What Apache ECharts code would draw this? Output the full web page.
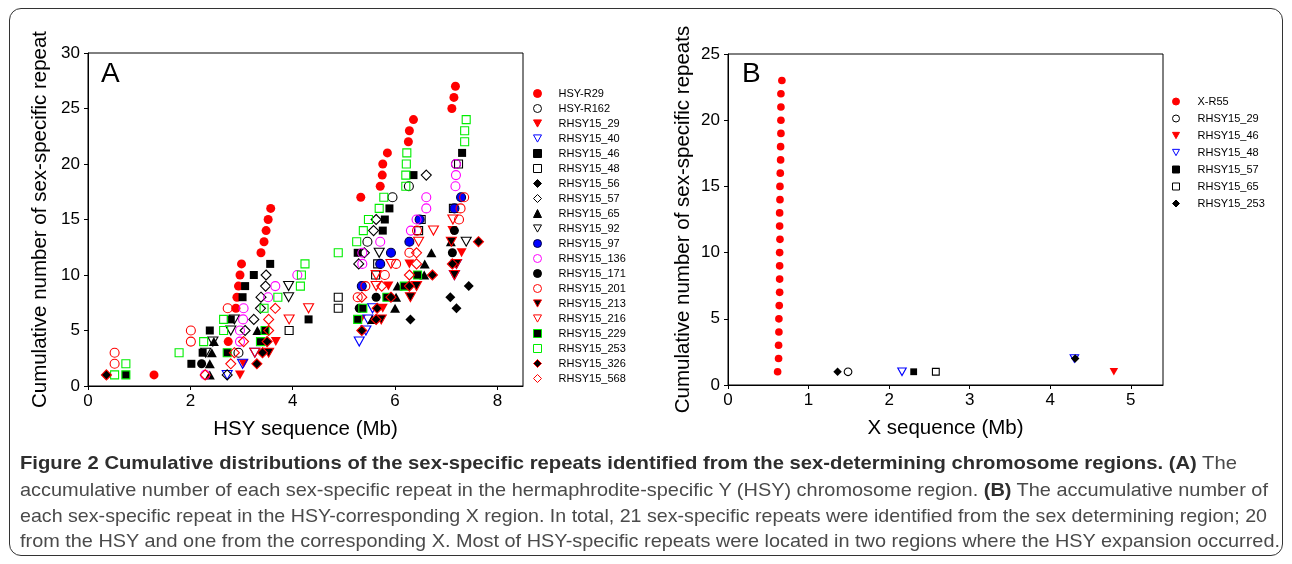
<!DOCTYPE html>
<html><head><meta charset="utf-8">
<script src="https://cdn.jsdelivr.net/npm/echarts@6/dist/echarts.min.js"></script>
<style>
html,body{margin:0;padding:0;background:#fff;}
#wrap{position:relative;width:1292px;height:564px;overflow:hidden;background:#fff;}
#chart{position:absolute;left:0;top:0;width:1292px;height:564px;}
#frame{position:absolute;left:9px;top:8px;width:1274px;height:548px;border:1.3px solid #333;border-radius:12px;box-sizing:border-box;pointer-events:none;}
.cap{position:absolute;left:20px;height:22px;line-height:22px;white-space:nowrap;font-family:'Liberation Sans Narrow','Liberation Sans',Arial,sans-serif;font-size:19px;color:#4a4a4a;transform-origin:0 50%;}
.cap b{color:#2e2e2e;}
</style></head>
<body>
<div id="wrap">
<div id="chart"></div>
<div id="frame"></div>
<div class="cap" id="c1" style="top:452px"><b>Figure 2 Cumulative distributions of the sex-specific repeats identified from the sex-determining chromosome regions. (A)</b> The</div>
<div class="cap" id="c2" style="top:479px">accumulative number of each sex-specific repeat in the hermaphrodite-specific Y (HSY) chromosome region. <b>(B)</b> The accumulative number of</div>
<div class="cap" id="c3" style="top:505px">each sex-specific repeat in the HSY-corresponding X region. In total, 21 sex-specific repeats were identified from the sex determining region; 20</div>
<div class="cap" id="c4" style="top:530px">from the HSY and one from the corresponding X. Most of HSY-specific repeats were located in two regions where the HSY expansion occurred.</div>
</div>
<script>
// ---------- Panel A data: [HSY position (Mb), cumulative count] ----------
const hsyR29   = [[1.29,1],[2.74,4],[2.89,7],[2.91,8],[2.94,9],[2.97,10],[3.0,11],[3.38,12],[3.44,13],[3.48,14],[3.52,15],[3.57,16],[5.33,17],[5.71,18],[5.75,19],[5.76,20],[5.85,21],[6.26,22],[6.28,23],[6.36,24],[7.11,25],[7.15,26],[7.18,27]];
const hsyR162  = [[2.94,3],[5.46,13],[5.95,17],[6.27,18],[7.19,20]];
const r29      = [[2.97,1],[3.04,2],[3.67,4],[5.33,6],[5.76,7],[5.87,9],[6.28,11],[7.3,12],[7.12,14]];
const r40      = [[2.72,1],[3.02,2],[3.26,3],[5.3,4],[5.43,5],[5.47,6],[5.56,7],[7.16,10],[7.2,11]];
const r46      = [[2.02,2],[2.24,3],[2.38,5],[2.79,6],[3.02,8],[3.07,9],[3.24,10],[3.56,11],[4.31,6],[5.27,12],[5.76,14],[5.8,15],[5.89,16],[6.36,19],[7.31,21]];
const r48      = [[3.93,5],[4.89,7],[4.89,8],[5.62,10],[5.66,11],[6.46,14],[6.51,15],[7.14,16],[7.24,20]];
const r56      = [[0.36,1],[6.3,6],[7.2,7],[7.08,8],[7.44,9]];
const r57      = [[2.72,1],[3.07,5],[3.24,6],[3.37,7],[3.38,8],[3.47,9],[3.48,10],[5.29,11],[5.4,12],[5.58,14],[5.63,15],[6.61,19]];
const r65      = [[2.38,1],[2.38,2],[2.42,3],[2.46,4],[3.31,5],[5.55,6],[6.0,7],[6.02,8],[6.05,9],[6.57,10],[6.58,11],[6.71,12],[7.09,13]];
const r92      = [[2.3,3],[2.44,4],[2.79,5],[2.86,6],[3.92,8],[3.92,9],[5.69,12],[7.39,13]];
const r97      = [[5.35,9],[5.71,11],[5.92,12],[6.28,13],[6.48,15],[7.16,16],[7.29,17]];
const r136     = [[2.29,1],[2.97,4],[2.97,5],[3.03,6],[3.04,7],[3.52,8],[3.66,9],[4.09,10],[5.36,11],[5.36,12],[5.71,13],[6.31,14],[6.42,15],[6.61,16],[6.61,17],[7.18,18],[7.19,19],[7.19,20]];
const r171     = [[2.22,2],[5.3,7],[5.63,8],[7.12,12],[7.16,14]];
const r201     = [[0.52,2],[0.52,3],[2.01,4],[2.01,5],[2.73,7],[5.27,8],[5.42,9],[5.8,10],[6.02,11],[6.28,12],[6.43,14],[7.25,15],[7.28,16],[7.35,17]];
const r213     = [[3.53,3],[5.73,6],[6.3,8],[6.42,9],[7.16,10],[7.2,11],[7.1,13]];
const r216     = [[3.26,3],[3.93,6],[4.31,7],[5.63,9],[5.63,10],[5.92,11],[6.46,13],[6.75,14],[7.13,15]];
const r229     = [[0.74,1],[2.72,3],[3.37,4],[3.46,5],[5.27,6],[5.37,7],[5.84,8],[6.18,9],[6.44,10]];
const r253     = [[0.52,1],[0.74,2],[1.78,3],[2.26,4],[2.65,5],[2.65,6],[3.44,7],[3.71,8],[4.15,9],[4.17,10],[4.24,11],[4.89,12],[5.25,13],[5.38,14],[5.48,15],[5.69,16],[5.78,17],[6.21,18],[6.21,19],[6.22,20],[6.23,21],[7.36,22],[7.36,23],[7.39,24]];
const r326     = [[0.36,1],[3.3,2],[3.41,3],[3.5,4],[5.35,5],[5.63,6],[5.65,7],[5.92,8],[6.28,9],[6.73,10],[7.12,11],[7.63,13]];
const r568     = [[2.29,1],[2.79,2],[2.86,3],[3.04,4],[3.53,5],[3.53,6],[3.66,7],[5.35,8],[5.74,9],[6.28,10],[6.42,11],[6.42,12]];

// ---------- Panel B data: [X position (Mb), cumulative count] ----------
const xR55  = [[0.616,1],[0.628,2],[0.628,3],[0.632,4],[0.632,5],[0.636,6],[0.641,7],[0.641,8],[0.641,9],[0.641,10],[0.645,11],[0.641,12],[0.641,13],[0.645,14],[0.645,15],[0.649,16],[0.653,17],[0.653,18],[0.657,19],[0.657,20],[0.657,21],[0.657,22],[0.669,23]];
const bR29  = [[1.49,1]];
const bR46  = [[4.79,1]];
const bR48  = [[2.16,1],[4.3,2]];
const bR57  = [[2.305,1]];
const bR65  = [[2.58,1]];
const bR253 = [[1.36,1],[4.31,2]];

const namesA = ['HSY-R29','HSY-R162','RHSY15_29','RHSY15_40','RHSY15_46','RHSY15_48','RHSY15_56','RHSY15_57','RHSY15_65','RHSY15_92','RHSY15_97','RHSY15_136','RHSY15_171','RHSY15_201','RHSY15_213','RHSY15_216','RHSY15_229','RHSY15_253','RHSY15_326','RHSY15_568'];
const dataA = [hsyR29,hsyR162,r29,r40,r46,r48,r56,r57,r65,r92,r97,r136,r171,r201,r213,r216,r229,r253,r326,r568];
const namesB = ['X-R55','RHSY15_29','RHSY15_46','RHSY15_48','RHSY15_57','RHSY15_65','RHSY15_253'];
const dataB = [xR55,bR29,bR46,bR48,bR57,bR65,bR253];

const xTicksA = [0,2,4,6,8];
const xTicksB = [0,1,2,3,4,5];

// ---------- styles ----------
const RED='#ff0000', BLK='#000000', BLU='#0000ff', MAG='#ff00ff', GRN='#00ee00', NONE='rgba(255,255,255,0)';
const TRI_DOWN='path://M0,0L10,0L5,9Z';
function mk(shape, fill, stroke){return {shape, fill, stroke};}
const markA = [
 mk('circle',RED,null), mk('circle',NONE,BLK), mk(TRI_DOWN,RED,null), mk(TRI_DOWN,NONE,BLU),
 mk('rect',BLK,null), mk('rect',NONE,BLK), mk('diamond',BLK,null), mk('diamond',NONE,BLK),
 mk('triangle',BLK,null), mk(TRI_DOWN,NONE,BLK), mk('circle',BLU,'#000044'), mk('circle',NONE,MAG),
 mk('circle',BLK,null), mk('circle',NONE,RED), mk(TRI_DOWN,BLK,RED), mk(TRI_DOWN,NONE,RED),
 mk('rect',BLK,GRN), mk('rect',NONE,GRN), mk('diamond',BLK,RED), mk('diamond',NONE,RED)
];
const markB = [
 mk('circle',RED,null), mk('circle',NONE,BLK), mk(TRI_DOWN,RED,null), mk(TRI_DOWN,NONE,BLU),
 mk('rect',BLK,null), mk('rect',NONE,BLK), mk('diamond',BLK,null)
];
function sizeFor(shape, scale){
  if(shape==='circle') return 9*scale;
  if(shape==='rect') return 8*scale;
  if(shape==='diamond') return 10*scale;
  return [10*scale, 9*scale];
}
function makeSeries(name, data, m, idx, scale){
  return {
    type:'scatter', name, data, xAxisIndex:idx, yAxisIndex:idx,
    symbol:m.shape, symbolSize:sizeFor(m.shape, scale),
    itemStyle:{color:m.fill, borderColor:m.stroke||m.fill, borderWidth:m.stroke?1.1:0, opacity:1},
    emphasis:{disabled:true}, animation:false
  };
}
const series = [];
namesA.forEach((n,i)=>series.push(makeSeries(n, dataA[i], markA[i], 0, 1)));
namesB.forEach((n,i)=>series.push(makeSeries('B:'+n, dataB[i], markB[i], 1, 0.85)));

const FONT = "'Liberation Sans', Arial, Helvetica, sans-serif";
function xAxisCfg(grid, max, interval, ticks, name){
  return {gridIndex:grid, type:'value', min:0, max, interval,
    axisLine:{show:true,onZero:false,lineStyle:{color:'#000',width:1}},
    axisTick:{show:true,length:4,lineStyle:{color:'#000'},customValues:ticks},
    axisLabel:{customValues:ticks,margin:7,fontSize:17,color:'#000',fontFamily:FONT},
    splitLine:{show:false},
    name, nameLocation:'middle', nameGap:33,
    nameTextStyle:{fontSize:20.5,color:'#000',fontFamily:FONT}};
}
function yAxisCfg(grid, max, name, gap){
  return {gridIndex:grid, type:'value', min:0, max, interval:5,
    axisLine:{show:true,onZero:false,lineStyle:{color:'#000',width:1}},
    axisTick:{show:true,length:4,lineStyle:{color:'#000'}},
    axisLabel:{margin:8,fontSize:17,color:'#000',fontFamily:FONT},
    splitLine:{show:false},
    name, nameLocation:'middle', nameGap:gap, nameRotate:90,
    nameTextStyle:{fontSize:20.5,color:'#000',fontFamily:FONT}};
}

const chart = echarts.init(document.getElementById('chart'), null, {renderer:'canvas'});
chart.setOption({
  animation:false,
  backgroundColor:'#fff',
  grid:[
    {left:88, top:53, width:435, height:333, show:true, borderColor:'#000', borderWidth:1, backgroundColor:'rgba(0,0,0,0)'},
    {left:728, top:54, width:435, height:331, show:true, borderColor:'#000', borderWidth:1, backgroundColor:'rgba(0,0,0,0)'}
  ],
  xAxis:[
    xAxisCfg(0, 8.5, 2, xTicksA, 'HSY sequence (Mb)'),
    xAxisCfg(1, 5.4, 1, xTicksB, 'X sequence (Mb)')
  ],
  yAxis:[
    yAxisCfg(0, 30, 'Cumulative number of sex-specific repeat', 37),
    yAxisCfg(1, 25, 'Cumulative number of sex-specific repeats', 34)
  ],
  legend:[
    {orient:'vertical', left:528, top:83, itemWidth:8, itemHeight:8, itemGap:4, selectedMode:false,
     itemStyle:{borderWidth:1},
     data:namesA, textStyle:{fontSize:11,color:'#000',fontFamily:FONT,padding:[0,0,0,12]}},
    {orient:'vertical', left:1167, top:91, itemWidth:7, itemHeight:7, itemGap:6, selectedMode:false,
     itemStyle:{borderWidth:1},
     data:namesB.map(n=>'B:'+n), formatter:n=>n.replace(/^B:/,''),
     textStyle:{fontSize:11,color:'#000',fontFamily:FONT,padding:[0,0,0,13]}}
  ],
  graphic:[
    {type:'text', left:101, top:60, style:{text:'A', fontSize:28, fontFamily:FONT, fill:'#000'}},
    {type:'text', left:742, top:60, style:{text:'B', fontSize:28, fontFamily:FONT, fill:'#000'}}
  ],
  series
});

// fit caption lines to the reference line widths
const capTargets = {c1:1217, c2:1248, c3:1247, c4:1260};
Object.keys(capTargets).forEach(id=>{
  const el=document.getElementById(id);
  const w=el.getBoundingClientRect().width;
  if(w>0) el.style.transform='scaleX('+(capTargets[id]/w)+')';
});
</script>
</body></html>
